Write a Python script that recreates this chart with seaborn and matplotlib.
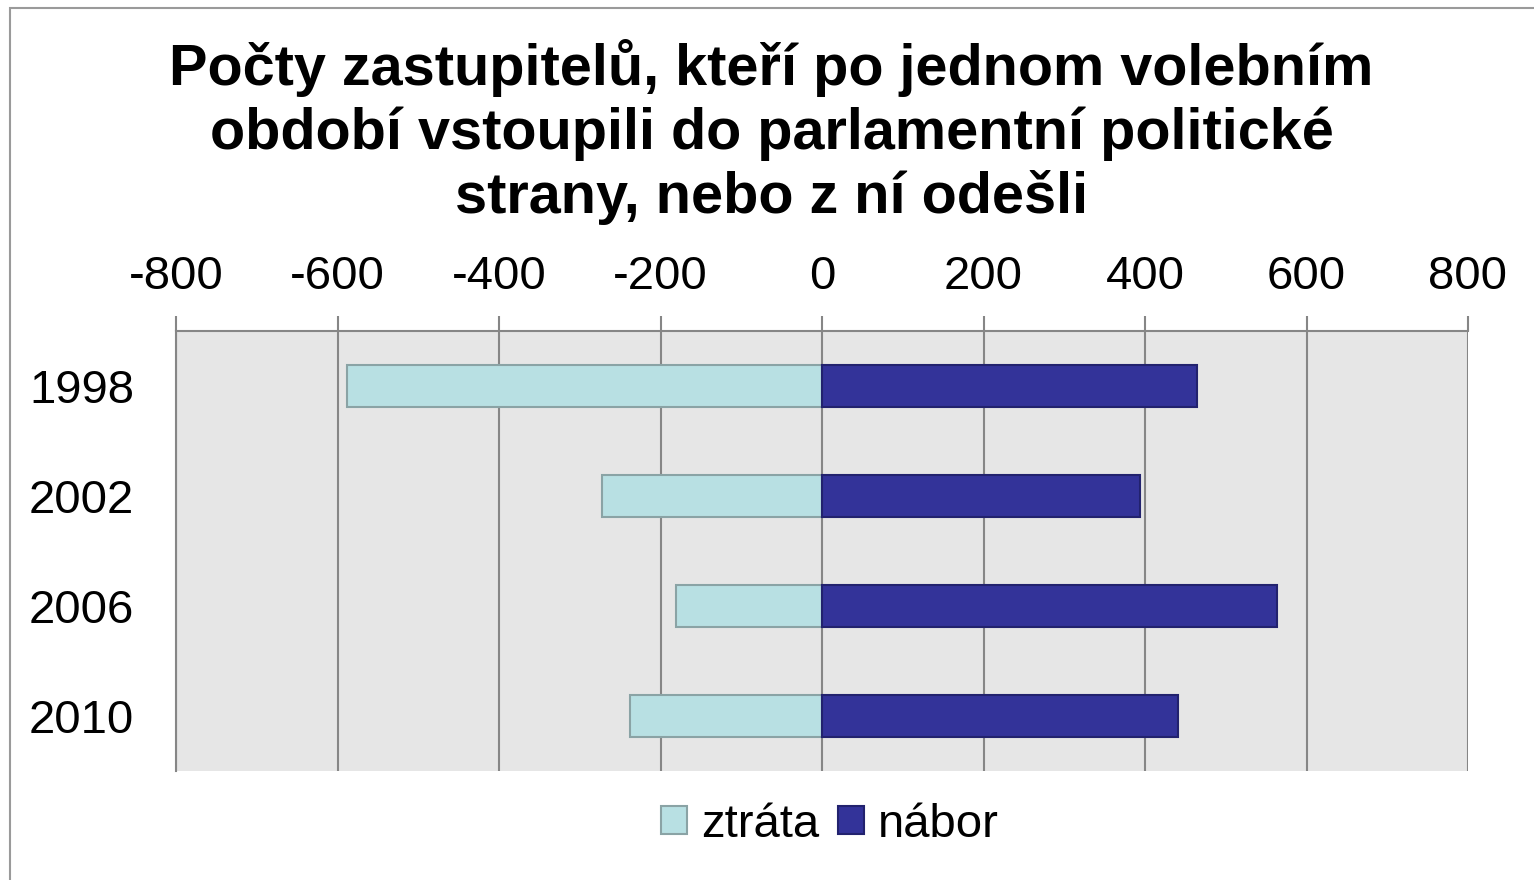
import pandas as pd
import seaborn as sns
import matplotlib.pyplot as plt
from matplotlib.patches import Rectangle, Patch

# data
years = ["1998", "2002", "2006", "2010"]
ztrata = [-588, -272, -181, -238]
nabor = [464, 394, 563, 441]
tick_values = [-800, -600, -400, -200, 0, 200, 400, 600, 800]

df = pd.DataFrame({
    "rok": years * 2,
    "pocet": ztrata + nabor,
    "serie": ["ztráta"] * 4 + ["nábor"] * 4,
})

sns.set_theme(style="white")
plt.rcParams['font.family'] = ['Liberation Sans', 'DejaVu Sans']
plt.rcParams['text.color'] = 'black'

colors = {"ztráta": "#B8E0E3", "nábor": "#333399"}
edges = {"ztráta": "#8AA3A5", "nábor": "#22226E"}

fig = plt.figure(figsize=(15.34, 8.8), dpi=100)
ax = fig.add_axes([176 / 1534, 1 - 771 / 880, (1468 - 176) / 1534, 440 / 880])

sns.barplot(data=df, x="pocet", y="rok", hue="serie", dodge=False,
            palette=colors, saturation=1, width=0.38, orient="h", ax=ax,
            legend=False)

for bar, s in zip(ax.patches, df["serie"]):
    bar.set_edgecolor(edges[s])
    bar.set_linewidth(1.5)

ax.set_facecolor("#E6E6E6")
ax.set_xlim(-800, 800)
ax.set_ylim(3.5, -0.5)
ax.set_xticks(tick_values)
ax.set_xticklabels([str(v) for v in tick_values])
ax.xaxis.tick_top()
ax.tick_params(axis="x", which="both", top=True, bottom=False, length=11,
               width=1.5, color="#868686", labelsize=34, pad=12, labelcolor="black")
ax.tick_params(axis="y", left=False, labelsize=34, pad=24, labelcolor="black")
ax.grid(axis="x", color="#868686", linewidth=1.5)
ax.set_axisbelow(True)
ax.set_xlabel("")
ax.set_ylabel("")
for side in ["right", "bottom"]:
    ax.spines[side].set_visible(False)
for side in ["top", "left"]:
    ax.spines[side].set_color("#868686")
    ax.spines[side].set_linewidth(1.5)

fig.text(0.503, 0.956, "Počty zastupitelů, kteří po jednom volebním\n"
         "období vstoupili do parlamentní politické\nstrany, nebo z ní odešli",
         ha="center", va="top", fontsize=41.5, fontweight="bold",
         linespacing=1.22, color="black")

handles = [Patch(facecolor=colors[k], edgecolor=edges[k], linewidth=1.5, label=k)
           for k in ["ztráta", "nábor"]]
leg = fig.legend(handles=handles, loc="center", bbox_to_anchor=(0.541, 0.063), ncol=2,
                 frameon=False, fontsize=34, handlelength=0.55, handleheight=0.55,
                 handletextpad=0.3, columnspacing=0.4)
for t in leg.get_texts():
    t.set_color("black")

# outer chart border
fig.patches.append(Rectangle((10 / 1534, -0.1), 1.2, 1.1 - 8 / 880,
                             transform=fig.transFigure, fill=False,
                             edgecolor="#9A9A9A", linewidth=1.5))

fig.savefig("out.png", dpi=100)
